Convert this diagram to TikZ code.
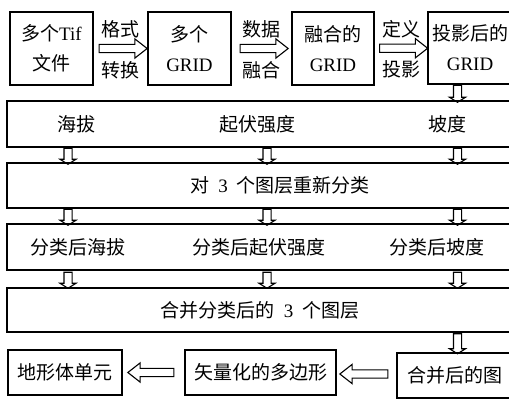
\documentclass[tikz,border=0pt]{standalone}
\usepackage{fontspec}
\setmainfont{Liberation Serif}
\newfontfamily\cjk{Noto Sans CJK SC}
\usetikzlibrary{shapes.arrows,calc}
\newcommand\gapsp{\hspace{9pt}}
\begin{document}
\begin{tikzpicture}[x=1pt,y=-1pt,
  box/.style={draw, line width=1.1pt, inner sep=0pt, align=center, font=\fontsize{19}{30}\selectfont},
  lbl/.style={inner sep=0pt, align=center, font=\fontsize{19}{23}\selectfont},
  rarr/.style={single arrow, draw, line width=1.1pt, inner xsep=0pt, inner ysep=3.6pt,
    single arrow head extend=5.5pt, single arrow tip angle=76, minimum height=#1},
  larr/.style={rarr=#1, rotate=180},
  darr/.style={single arrow, draw, line width=1.1pt, inner xsep=0pt, inner ysep=3.5pt,
    single arrow head extend=4pt, single arrow tip angle=116, minimum height=#1, rotate=-90}]
\useasboundingbox (0,0) rectangle (509,399);
\clip (0,0) rectangle (509,399);
% top row
\node[box, minimum width=83pt, minimum height=73pt] (a) at (51.5,48.5) {{\cjk 多个}Tif\\{\cjk 文件}};
\node[box, minimum width=83pt, minimum height=73pt] (b) at (189.5,48.5) {{\cjk 多个}\\GRID};
\node[box, minimum width=82pt, minimum height=73pt] (c) at (333,48.5) {{\cjk 融合的}\\GRID};
\node[box, minimum width=84pt, minimum height=72pt] (d) at (470,48) {{\cjk 投影后的}\\GRID};
% wide rows
\node[box, minimum width=508pt, minimum height=46pt] (r1) at (261,124) {};
\node[box, minimum width=508pt, minimum height=45pt] (r2) at (261,185.5) {};
\node[box, minimum width=508pt, minimum height=46pt] (r3) at (261,247) {};
\node[box, minimum width=508pt, minimum height=44pt] (r4) at (261,310) {};
\node[lbl] (t11) at (76,124) {\cjk 海拔};
\node[lbl] (t12) at (257,124) {\cjk 起伏强度};
\node[lbl] (t13) at (447,124) {\cjk 坡度};
\node[lbl] (t2) at (280,185.5) {{\cjk 对}\gapsp3\gapsp{\cjk 个图层重新分类}};
\node[lbl] (t31) at (78,247) {\cjk 分类后海拔};
\node[lbl] (t32) at (259,247) {\cjk 分类后起伏强度};
\node[lbl] (t33) at (437,247) {\cjk 分类后坡度};
\node[lbl] (t4) at (260,310) {{\cjk 合并分类后的}\gapsp3\gapsp{\cjk 个图层}};
% bottom row
\node[box, minimum width=114pt, minimum height=45pt] (e) at (65,372.5) {\cjk 地形体单元};
\node[box, minimum width=151pt, minimum height=45pt] (f) at (260.5,372.5) {\cjk 矢量化的多边形};
\node[box, minimum width=116pt, minimum height=45pt] (g) at (455,375.5) {\cjk 合并后的图};
% columns
\coordinate (k1) at (68,0);
\coordinate (k2) at (267,0);
\coordinate (k3) at (457.5,0);
% top arrows with labels
\node[rarr=48pt] (ab) at ($(a.east)!.5!(b.west)$) {};
\node[lbl] at ($(ab)+(0,-19.5)$) {\cjk 格式};
\node[lbl] at ($(ab)+(0,21.5)$) {\cjk 转换};
\node[rarr=48pt] (bc) at ($(b.east)!.5!(c.west)$) {};
\node[lbl] at ($(bc)+(0,-19.5)$) {\cjk 数据};
\node[lbl] at ($(bc)+(0,21.5)$) {\cjk 融合};
\node[rarr=48pt] (cd) at ($(c.east)!.5!(d.west)$) {};
\node[lbl] at ($(cd)+(0,-19.5)$) {\cjk 定义};
\node[lbl] at ($(cd)+(0,21.5)$) {\cjk 投影};
% down arrows
\path (d.south -| k3) -- node[darr=17pt]{} (r1.north -| k3);
\foreach \u/\v in {r1/r2, r2/r3, r3/r4}
  \foreach \k in {k1,k2,k3}
    \path (\u.south -| \k) -- node[darr=16pt]{} (\v.north -| \k);
\path (r4.south -| k3) -- node[darr=20pt]{} (g.north -| k3);
% left arrows
\path (g.west) -- node[larr=48pt]{} (f.east);
\path (f.west) -- node[larr=46pt]{} (e.east);
\end{tikzpicture}
\end{document}
